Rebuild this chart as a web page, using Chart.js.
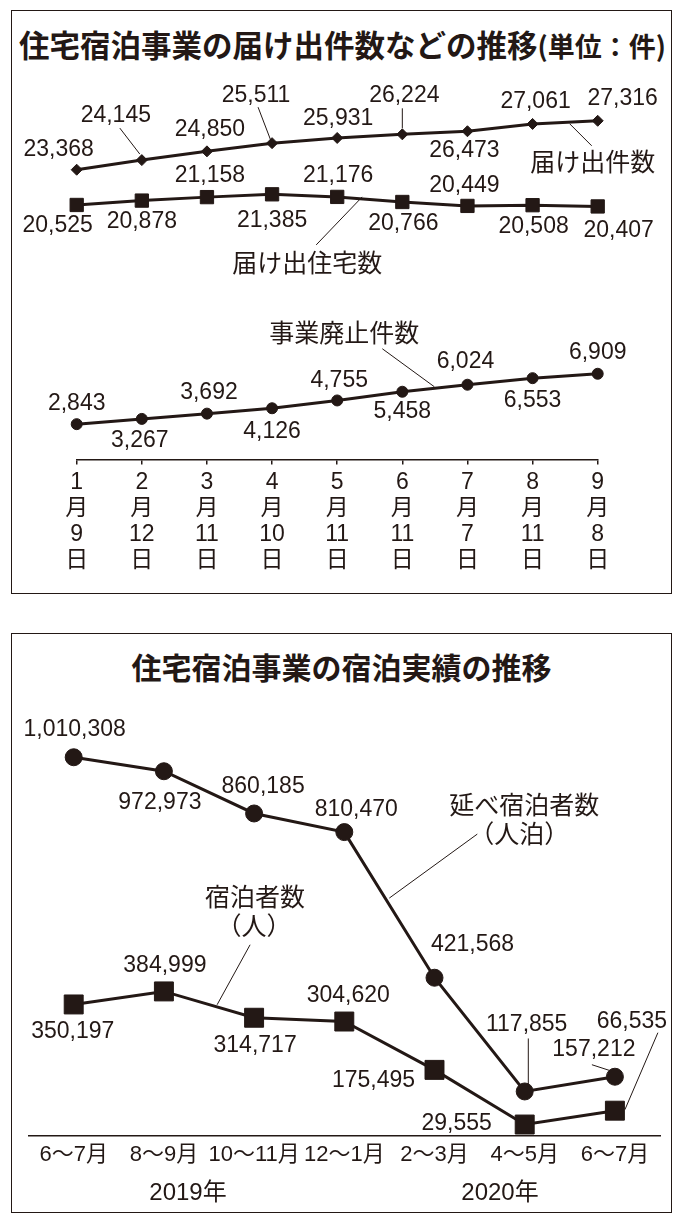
<!DOCTYPE html>
<html><head><meta charset="utf-8">
<script src="https://cdn.jsdelivr.net/npm/chart.js@4.4.0/dist/chart.umd.min.js"></script>
<style>
html,body{margin:0;padding:0;background:#fff;}
body{width:683px;height:1225px;position:relative;overflow:hidden;font-family:"Liberation Sans","Noto Sans CJK JP",sans-serif;color:#231815;}
.panel{position:absolute;border:1.5px solid #231815;box-sizing:border-box;}
#p1{left:11px;top:10px;width:661px;height:584px;}
#p2{left:11px;top:633px;width:661px;height:580px;}
.title{position:absolute;font-family:"Noto Sans CJK JP",sans-serif;font-weight:700;white-space:nowrap;line-height:40px;}
#t1{left:19px;top:24px;font-size:30.5px;}
#t1 span{font-size:27px;}
#t2{left:0;width:683px;text-align:center;top:646px;font-size:30px;}
.year{position:absolute;font-size:24px;line-height:30px;width:120px;text-align:center;}
canvas{position:absolute;left:0;}
#c1{top:0;}
#c2{top:620px;}
</style></head>
<body>
<div class="panel" id="p1"></div>
<div class="panel" id="p2"></div>
<div class="title" id="t1">住宅宿泊事業の届け出件数などの推移<span>(単位：件)</span></div>
<div class="title" id="t2">住宅宿泊事業の宿泊実績の推移</div>
<canvas id="c1" width="683" height="610"></canvas>
<canvas id="c2" width="683" height="605"></canvas>
<div class="year" style="left:128px;top:1177px;">2019年</div>
<div class="year" style="left:440px;top:1177px;">2020年</div>
<script>
// ---- data ----
const months = ['1','2','3','4','5','6','7','8','9'];
const days = ['9','12','11','10','11','11','7','11','8'];
const notifications = [23368,24145,24850,25511,25931,26224,26473,27061,27316];
const houses = [20525,20878,21158,21385,21176,20766,20449,20508,20407];
const closures = [2843,3267,3692,4126,4755,5458,6024,6553,6909];

const periods = ['6～7月','8～9月','10～11月','12～1月','2～3月','4～5月','6～7月'];
const guestNights = [1010308,972973,860185,810470,421568,117855,157212];
const guests = [350197,384999,314717,304620,175495,29555,66535];

// ---- label layout (offsets from points) ----
const offN = [[-18,-20],[-26,-44],[3,-22],[-16,-48],[1,-19],[2,-39],[-3,19],[3,-22],[25,-22]];
const leadN = {1:[[-22,-32],[-2,-6]],3:[[-14,-36],[-1,-2]],5:[[0,-26],[0,-6]]};
const offH = [[-19,21],[0,21],[3,-21],[0,26],[1,-21],[1,22],[-3,-20],[1,21],[21,24]];
const offC = [[0,-21],[-2,22],[2,-21],[0,23],[2,-20],[0,20],[-2,-23],[0,22],[0,-21]];
const offG = [[1,-28],[-4,31],[9,-27],[12,-22],[38,-33],[2,-67],[-21,-27.5]];
const leadG = {5:[[3.6,-53],[3.6,-5]],6:[[-23,-12],[-4.5,-6]]};
const offQ = [[-1,27],[1,-26],[1,28],[4,-26],[-61,11],[-68,-1],[17,-89]];
const leadQ = {6:[[43,-78],[10,-1]]};

const INK = '#231815';
const NUMFONT = '"Liberation Sans","Noto Sans CJK JP",sans-serif';
const JPFONT = '"Noto Sans CJK JP",sans-serif';
const fmt = v => v.toLocaleString('en-US');

const labelPlugin = {
  id: 'labels',
  afterDatasetsDraw(chart, args, opts) {
    const ctx = chart.ctx;
    ctx.save();
    ctx.fillStyle = INK; ctx.strokeStyle = INK; ctx.lineWidth = 1;
    ctx.textAlign = 'center'; ctx.textBaseline = 'middle';
    (opts.series || []).forEach(s => {
      const meta = chart.getDatasetMeta(s.ds);
      const data = chart.data.datasets[s.ds].data;
      ctx.font = opts.font;
      meta.data.forEach((pt, i) => {
        const o = s.off[i];
        ctx.fillText(fmt(data[i]), pt.x + o[0], pt.y + o[1]);
        const l = s.lead && s.lead[i];
        if (l) {
          ctx.beginPath();
          ctx.moveTo(pt.x + l[0][0], pt.y + l[0][1]);
          ctx.lineTo(pt.x + l[1][0], pt.y + l[1][1]);
          ctx.stroke();
        }
      });
    });
    (opts.callouts || []).forEach(c => {
      const pt = chart.getDatasetMeta(c.ds).data[c.i];
      ctx.font = opts.nameFont;
      c.lines.forEach((t, k) => ctx.fillText(t, pt.x + c.pos[k][0], pt.y + c.pos[k][1]));
      ctx.beginPath();
      ctx.moveTo(pt.x + c.lead[0][0], pt.y + c.lead[0][1]);
      ctx.lineTo(pt.x + c.lead[1][0], pt.y + c.lead[1][1]);
      ctx.stroke();
    });
    ctx.restore();
  }
};

function ds(data, style, r, lw) {
  return {data, borderColor: INK, backgroundColor: INK, borderWidth: lw, pointStyle: style,
          pointRadius: r, pointBorderWidth: 1, pointBackgroundColor: INK, pointBorderColor: INK,
          tension: 0, clip: false};
}

new Chart(document.getElementById('c1'), {
  type: 'line',
  plugins: [labelPlugin],
  data: {
    labels: months.map((m, i) => [m, '月', days[i], '日']),
    datasets: [ds(notifications, 'rectRot', 5.5, 3), ds(houses, 'rect', 9.4, 3), ds(closures, 'circle', 5.5, 3)]
  },
  options: {
    responsive: false, animation: false,
    layout: {padding: {left: 76.7, right: 85.3, top: 90, bottom: 31.6}},
    plugins: {
      legend: {display: false}, tooltip: {enabled: false},
      labels: {
        font: '23px ' + NUMFONT, nameFont: '25px ' + JPFONT,
        series: [{ds: 0, off: offN, lead: leadN}, {ds: 1, off: offH}, {ds: 2, off: offC}],
        callouts: [
          {ds: 0, i: 8, lines: ['届け出件数'], pos: [[-5, 41]], lead: [[-28, 3], [-6, 25]]},
          {ds: 1, i: 4, lines: ['届け出住宅数'], pos: [[-30, 66]], lead: [[25, 0], [-21, 48]]},
          {ds: 2, i: 5, lines: ['事業廃止件数'], pos: [[-58, -59]], lead: [[-20, -43], [32, -5]]}
        ]
      }
    },
    scales: {
      x: {
        type: 'category', offset: false,
        grid: {display: true, drawOnChartArea: false, drawTicks: true, tickLength: 5, color: INK, lineWidth: 1.5, offset: false},
        border: {display: true, color: INK, width: 1.5},
        ticks: {color: INK, font: {family: NUMFONT, size: 23, lineHeight: '26px'}, padding: 5, autoSkip: false, maxRotation: 0}
      },
      y: {display: false, min: 0, max: 29800}
    }
  }
});

new Chart(document.getElementById('c2'), {
  type: 'line',
  plugins: [labelPlugin],
  data: {
    labels: periods,
    datasets: [ds(guestNights, 'circle', 8.5, 3), ds(guests, 'rect', 13.4, 3)]
  },
  options: {
    responsive: false, animation: false,
    layout: {padding: {left: 28.6, right: 23, top: 90, bottom: 51}},
    plugins: {
      legend: {display: false}, tooltip: {enabled: false},
      labels: {
        font: '23px ' + NUMFONT, nameFont: '25px ' + JPFONT,
        series: [{ds: 0, off: offG, lead: leadG}, {ds: 1, off: offQ, lead: leadQ}],
        callouts: [
          {ds: 0, i: 3, lines: ['延べ宿泊者数', '（人泊）'], pos: [[180, -28], [175, 1]], lead: [[133, 2], [45, 66]]},
          {ds: 1, i: 2, lines: ['宿泊者数', '（人）'], pos: [[1, -121], [0, -92]], lead: [[-4, -73], [-37, -13]]}
        ]
      }
    },
    scales: {
      x: {
        type: 'category', offset: true,
        grid: {display: false, drawTicks: false},
        border: {display: true, color: INK, width: 1.5},
        ticks: {color: INK, font: {family: NUMFONT, size: 22, lineHeight: 1.2}, padding: 6, autoSkip: false, maxRotation: 0}
      },
      y: {display: false, min: 0, max: 1136500}
    }
  }
});
</script>
</body></html>
